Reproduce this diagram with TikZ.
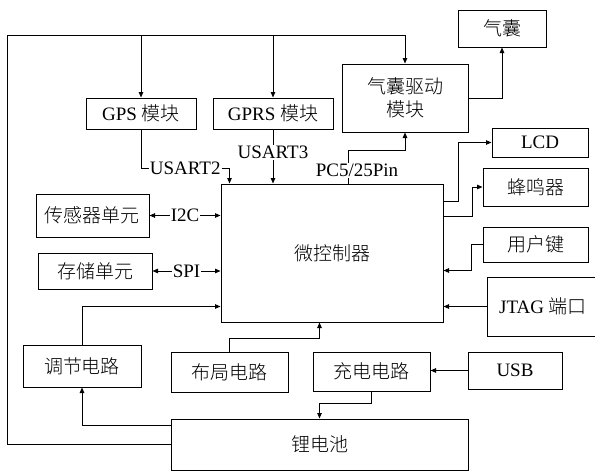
\documentclass[tikz,border=0pt]{standalone}
\usepackage{fontspec}
\setmainfont{Liberation Serif}
\newfontfamily\cjk{Noto Sans CJK SC}[UprightFont=* Light]
\usetikzlibrary{arrows.meta,calc}
\begin{document}
\begin{tikzpicture}[x=1pt,y=-1pt,
  box/.style={draw, line width=1pt, inner sep=0pt, font=\fontsize{19}{23}\selectfont},
  arr/.style={line width=0.9pt, -{Triangle[length=5.5pt,width=4.5pt]}},
  darr/.style={line width=0.9pt, {Triangle[length=5.5pt,width=4.5pt]}-{Triangle[length=5.5pt,width=4.5pt]}},
  lbl/.style={fill=white, inner sep=1pt, font=\fontsize{19}{23}\selectfont}]
\useasboundingbox (0,0) rectangle (595,471);
\fill[white] (0,0) rectangle (595,471);

% boxes
\node[box,minimum width=88pt,minimum height=37pt] (bag) at (502,28.5) {\cjk 气囊};
\node[box,minimum width=126pt,minimum height=68pt,align=center,font=\fontsize{19}{23}\cjk] (drv) at (405,98) {气囊驱动\\模块};
\node[box,minimum width=110pt,minimum height=31pt] (gps) at (141,113.5) {GPS {\cjk 模块}};
\node[box,minimum width=120pt,minimum height=31pt] (gprs) at (273,113.5) {GPRS {\cjk 模块}};
\node[box,minimum width=96pt,minimum height=29pt] (lcd) at (540,142.5) {LCD};
\node[box,minimum width=105pt,minimum height=38pt] (buz) at (535.5,187) {\cjk 蜂鸣器};
\node[box,minimum width=222pt,minimum height=138pt] (mcu) at (332,253) {\cjk 微控制器};
\node[box,minimum width=113pt,minimum height=43pt] (sen) at (92.5,215.5) {\cjk 传感器单元};
\node[box,minimum width=114pt,minimum height=36pt] (sto) at (95,271) {\cjk 存储单元};
\node[box,minimum width=105pt,minimum height=35pt] (uk) at (535.5,244.5) {\cjk 用户键};
\node[box,minimum width=112pt,minimum height=59pt] (jtag) at (543,306.5) {JTAG {\cjk 端口}};
\node[box,minimum width=118pt,minimum height=42pt] (tj) at (82,366) {\cjk 调节电路};
\node[box,minimum width=117pt,minimum height=40pt] (bj) at (229.5,372) {\cjk 布局电路};
\node[box,minimum width=117pt,minimum height=39pt] (chg) at (371.5,371.5) {\cjk 充电电路};
\node[box,minimum width=94pt,minimum height=37pt] (usb) at (515,370.5) {USB};
\node[box,minimum width=297pt,minimum height=51pt] (bat) at (319.5,444.5) {\cjk 锂电池};

% outer power loop
\coordinate (ltl) at (7.5,35);
\draw[arr] (bat.west) -| (ltl) -| (drv.north);
\draw[arr] (gps.north |- ltl) -- (gps.north);
\draw[arr] (gprs.north |- ltl) -- (gprs.north);

% serial links
\draw[arr] (gps.south) -- ++(0,39) -| node[lbl,pos=0.25]{USART2} ([xshift=9pt]mcu.north west);
\draw[arr] (gprs.south) -- node[lbl,pos=0.42]{USART3} (gprs.south |- mcu.north);
\draw[arr] ([xshift=128pt]mcu.north west) -- node[lbl,pos=0.4,xshift=8.5pt]{PC5/25Pin} ++(0,-33) -| (drv.south);
\draw[arr] (drv.east) -| (bag.south);

% right side
\draw[arr] ([yshift=-18pt]mcu.north east) -- ++(15,0) |- (lcd.west);
\draw[arr] ([yshift=-33pt]mcu.north east) -- ++(29,0) |- (buz.west);
\draw[arr] (uk.west) -- ++(-11,0) |- ([yshift=-87pt]mcu.north east);
\draw[arr] (jtag.west) -- (jtag.west -| mcu.east);

% left side
\draw[darr] (sen.east) -- node[lbl]{I2C} (sen.east -| mcu.west);
\draw[darr] (sto.east) -- node[lbl]{SPI} (sto.east -| mcu.west);
\draw[arr] (tj.north) |- ([yshift=-123pt]mcu.north west);
\draw[arr] (bj.north) -- ++(0,-13) -| ([xshift=99pt]mcu.south west);

% bottom
\draw[arr] (usb.west) -- (usb.west -| chg.east);
\draw[arr] (chg.south) -- ++(0,12) -| (bat.north);
\draw[arr] ([yshift=-7pt]bat.north west) -| (tj.south);
\end{tikzpicture}
\end{document}
